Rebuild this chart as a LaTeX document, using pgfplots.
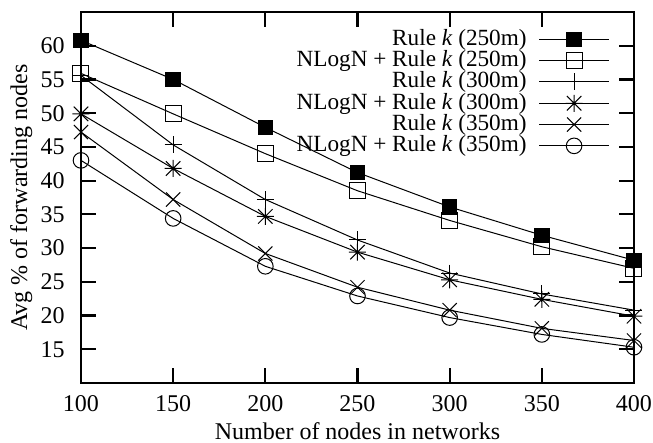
\documentclass[border=0pt]{standalone}
\usepackage{fontspec}
\setmainfont{Liberation Serif}
\usepackage{pgfplots}
\pgfplotsset{compat=1.18}

% gnuplot style 8-arm star
\pgfdeclareplotmark{gpstar}{%
  \pgfpathmoveto{\pgfqpoint{-\pgfplotmarksize}{0pt}}%
  \pgfpathlineto{\pgfqpoint{\pgfplotmarksize}{0pt}}%
  \pgfpathmoveto{\pgfqpoint{0pt}{-\pgfplotmarksize}}%
  \pgfpathlineto{\pgfqpoint{0pt}{\pgfplotmarksize}}%
  \pgfpathmoveto{\pgfqpoint{-.85\pgfplotmarksize}{-.85\pgfplotmarksize}}%
  \pgfpathlineto{\pgfqpoint{.85\pgfplotmarksize}{.85\pgfplotmarksize}}%
  \pgfpathmoveto{\pgfqpoint{-.85\pgfplotmarksize}{.85\pgfplotmarksize}}%
  \pgfpathlineto{\pgfqpoint{.85\pgfplotmarksize}{-.85\pgfplotmarksize}}%
  \pgfusepathqstroke}

\begin{document}
\begin{tikzpicture}[font=\fontsize{12bp}{14bp}\selectfont]
\begin{axis}[
    scale only axis,
    width=276.5bp, height=185.5bp,
    xmin=100, xmax=400,
    ymin=10, ymax=65,
    xtick={100,150,...,400},
    ytick={15,20,...,60},
    tick align=inside,
    major tick length=7.5bp,
    every tick/.style={black, line width=1.1bp},
    axis line style={line width=1.1bp},
    /pgf/number format/assume math mode=true,
    xticklabel style={inner sep=0pt, yshift=-6bp},
    yticklabel style={inner sep=0pt, xshift=-8bp},
    xlabel={Number of nodes in networks},
    ylabel={Avg \% of forwarding nodes},
    xlabel style={at={(axis description cs:0.5,-0.1536)}, anchor=base},
    ylabel style={at={(axis description cs:-0.0976,0.5)}, anchor=base, rotate=0},
    legend cell align=right,
    legend plot pos=right,
    legend style={at={(axis description cs:1,1)}, anchor=north east,
        xshift=-12bp, yshift=-8.4bp, draw=none, fill=none,
        font=\fontsize{11.6bp}{13bp}\selectfont,
        inner sep=0pt, row sep=0.5bp, column sep=6bp,
        nodes={inner sep=0pt, text height=8bp, text depth=2.15bp}},
    legend image code/.code={\draw[mark repeat=2,mark phase=2,#1]
        plot coordinates {(0bp,0bp) (17.5bp,0bp) (35bp,0bp)};},
    every axis plot/.append style={black, line width=0.5bp, mark options={solid}},
]
\addplot[mark=square*, mark size=3.6bp] coordinates {
    (100,60.8) (150,55.0) (200,47.9) (250,41.2) (300,36.1) (350,31.9) (400,28.2)};
\addlegendentry{Rule \textit{k} (250m)}
\addplot[mark=square, mark size=4bp] coordinates {
    (100,55.9) (150,49.9) (200,44.0) (250,38.5) (300,34.1) (350,30.2) (400,27.0)};
\addlegendentry{NLogN + Rule \textit{k} (250m)}
\addplot[mark=+, mark size=4.25bp] coordinates {
    (100,55.6) (150,45.3) (200,37.2) (250,31.2) (300,26.3) (350,23.2) (400,20.8)};
\addlegendentry{Rule \textit{k} (300m)}
\addplot[mark=gpstar, mark size=4.25bp] coordinates {
    (100,49.9) (150,41.8) (200,34.7) (250,29.4) (300,25.3) (350,22.4) (400,19.9)};
\addlegendentry{NLogN + Rule \textit{k} (300m)}
\addplot[mark=x, mark size=5bp] coordinates {
    (100,47.2) (150,37.2) (200,29.2) (250,24.2) (300,20.8) (350,18.1) (400,16.3)};
\addlegendentry{Rule \textit{k} (350m)}
\addplot[mark=o, mark size=3.9bp] coordinates {
    (100,43.0) (150,34.4) (200,27.3) (250,22.9) (300,19.7) (350,17.2) (400,15.3)};
\addlegendentry{NLogN + Rule \textit{k} (350m)}
\end{axis}
\pgfresetboundingbox
\path[use as bounding box]
    ([xshift=-40.5bp,yshift=-30bp]current axis.south west)
    rectangle ([xshift=9.5bp,yshift=6bp]current axis.north east);
\end{tikzpicture}
\end{document}
